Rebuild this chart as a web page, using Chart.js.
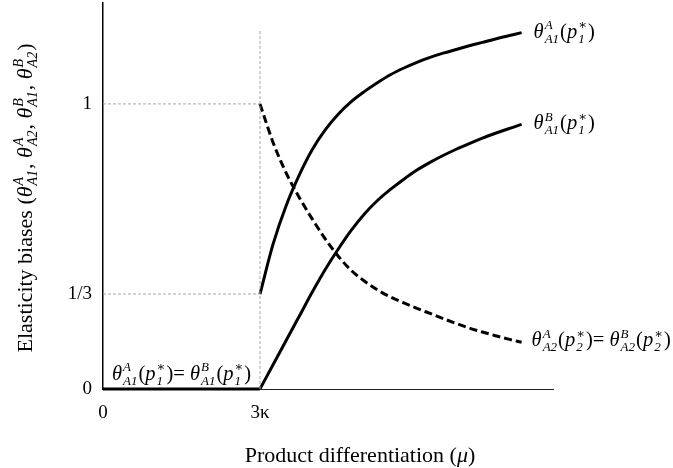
<!DOCTYPE html>
<html>
<head>
<meta charset="utf-8">
<script src="https://cdn.jsdelivr.net/npm/chart.js@4"></script>
<style>
	html, body { margin: 0; padding: 0; background: #fff; }
	#wrap { width: 673px; height: 468px; }
</style>
</head>
<body>
<div id="wrap"><canvas id="elasticityChart" width="673" height="468"></canvas></div>
<script>
// values (x in units where 3κ = 3)
const muGrid = [3, 3.25, 3.5, 3.75, 4, 4.25, 4.5, 4.75, 5, 5.25, 5.5, 5.75, 6, 6.25, 6.5, 6.75, 7, 7.25, 7.5, 7.75, 8];
const thetaA1 = [0.333, 0.508, 0.643, 0.75, 0.84, 0.91, 0.965, 1.009, 1.044, 1.075, 1.103, 1.126, 1.146, 1.163, 1.178, 1.191, 1.204, 1.216, 1.228, 1.239, 1.25];
const thetaB1 = [0, 0.085, 0.17, 0.255, 0.34, 0.42, 0.492, 0.558, 0.615, 0.662, 0.701, 0.736, 0.768, 0.795, 0.819, 0.841, 0.861, 0.88, 0.897, 0.913, 0.928];
const thetaA2 = [1, 0.865, 0.758, 0.672, 0.596, 0.526, 0.465, 0.415, 0.378, 0.347, 0.322, 0.302, 0.283, 0.265, 0.247, 0.23, 0.214, 0.2, 0.187, 0.175, 0.164];
const flatMu = [0, 3];
const flatTheta = [0, 0];

const xTickValues = [0, 3];
const xTickLabels = ['0', '3κ'];
const yTickValues = [0, 1 / 3, 1];
const yTickLabels = ['0', '1/3', '1'];
const guideTop = 1.263;

const SERIF = '"Liberation Serif", "DejaVu Serif", serif';
const fontOf = (size, italic) => (italic ? 'italic ' : '') + size + 'px ' + SERIF;

const toPoints = (xs, ys) => xs.map((x, i) => ({ x: x, y: ys[i] }));

// tiny rich text helper for θ with sup/sub scripts
function richWidth(ctx, parts, size) {
	let w = 0;
	const ss = Math.round(size * 0.65);
	parts.forEach((p) => {
		if (p.t !== undefined) {
			ctx.font = fontOf(size, p.it);
			w += ctx.measureText(p.t).width;
			return;
		}
		ctx.font = fontOf(size, true);
		w += ctx.measureText(p.b).width + 1;
		ctx.font = fontOf(ss, true);
		w += Math.max(p.sup ? ctx.measureText(p.sup).width : 0, p.sub ? ctx.measureText(p.sub).width : 0) + 1;
	});
	return w;
}

function drawRich(ctx, parts, x, y, size) {
	let cx = x;
	const ss = Math.round(size * 0.65);
	ctx.textAlign = 'left';
	ctx.textBaseline = 'alphabetic';
	parts.forEach((p) => {
		if (p.t !== undefined) {
			ctx.font = fontOf(size, p.it);
			ctx.fillText(p.t, cx, y);
			cx += ctx.measureText(p.t).width;
			return;
		}
		ctx.font = fontOf(size, true);
		ctx.fillText(p.b, cx, y);
		cx += ctx.measureText(p.b).width + 1;
		ctx.font = fontOf(ss, true);
		let sw = 0;
		if (p.sup) { ctx.fillText(p.sup, cx, y - size * 0.42); sw = ctx.measureText(p.sup).width; }
		if (p.sub) { ctx.fillText(p.sub, cx, y + size * 0.24); sw = Math.max(sw, ctx.measureText(p.sub).width); }
		cx += sw + 1;
	});
}

const th = (sup, sub) => ({ b: 'θ', sup: sup, sub: sub });
const pp = (sub) => ({ b: 'p', sup: '∗', sub: sub });

const labelA1 = [th('A', 'A1'), { t: '(' }, pp('1'), { t: ')' }];
const labelB1 = [th('B', 'A1'), { t: '(' }, pp('1'), { t: ')' }];
const labelA2 = [th('A', 'A2'), { t: '(' }, pp('2'), { t: ')= ' }, th('B', 'A2'), { t: '(' }, pp('2'), { t: ')' }];
const labelFlat = [th('A', 'A1'), { t: '(' }, pp('1'), { t: ')= ' }, th('B', 'A1'), { t: '(' }, pp('1'), { t: ')' }];
const yTitle = [{ t: 'Elasticity biases (' }, th('A', 'A1'), { t: ', ' }, th('A', 'A2'), { t: ', ' }, th('B', 'A1'), { t: ', ' }, th('B', 'A2'), { t: ')' }];
const xTitle = [{ t: 'Product differentiation (' }, { t: 'μ', it: true }, { t: ')' }];

const textPlugin = {
	id: 'mathText',
	afterDraw(chart) {
		const ctx = chart.ctx;
		const xs = chart.scales.x, ys = chart.scales.y;
		const last = muGrid.length - 1;
		const px = (v) => xs.getPixelForValue(v);
		const py = (v) => ys.getPixelForValue(v);
		const LS = 20.5;
		ctx.save();
		ctx.fillStyle = '#000';

		drawRich(ctx, labelA1, px(muGrid[last]) + 12, py(thetaA1[last]) + 5, LS);
		drawRich(ctx, labelB1, px(muGrid[last]) + 12, py(thetaB1[last]) + 5, LS);
		drawRich(ctx, labelA2, px(muGrid[last]) + 10, py(thetaA2[last]) + 4, LS);
		drawRich(ctx, labelFlat, px(flatMu[0]) + 9, py(flatTheta[0]) - 9, LS);

		// x axis title
		const xw = richWidth(ctx, xTitle, 22);
		drawRich(ctx, xTitle, chart.chartArea.left + 257 - xw / 2, 462, 22);

		// y axis title, rotated
		const yw = richWidth(ctx, yTitle, 22);
		ctx.translate(25, 198);
		ctx.rotate(-Math.PI / 2);
		drawRich(ctx, yTitle, -yw / 2, 7, 22);
		ctx.restore();
	}
};

const guideStyle = {
	borderColor: '#a8a8a8',
	borderWidth: 1,
	borderDash: [3, 2],
	pointRadius: 0,
	fill: false
};

const curveStyle = {
	borderColor: '#000',
	borderWidth: 3,
	pointRadius: 0,
	cubicInterpolationMode: 'monotone',
	borderCapStyle: 'butt'
};

new Chart(document.getElementById('elasticityChart'), {
	type: 'line',
	data: {
		datasets: [
			Object.assign({ data: [{ x: xTickValues[0], y: yTickValues[2] }, { x: xTickValues[1], y: yTickValues[2] }] }, guideStyle),
			Object.assign({ data: [{ x: xTickValues[0], y: yTickValues[1] }, { x: xTickValues[1], y: yTickValues[1] }] }, guideStyle),
			Object.assign({ data: [{ x: xTickValues[1], y: yTickValues[0] }, { x: xTickValues[1], y: guideTop }] }, guideStyle),
			{
				label: 'flat',
				data: toPoints(flatMu, flatTheta),
				borderColor: '#000',
				borderWidth: 3,
				pointRadius: 0,
				clip: false
			},
			Object.assign({ label: 'thetaA1', data: toPoints(muGrid, thetaA1) }, curveStyle),
			Object.assign({ label: 'thetaB1', data: toPoints(muGrid, thetaB1) }, curveStyle),
			Object.assign({ label: 'thetaA2', data: toPoints(muGrid, thetaA2), borderDash: [8, 4] }, curveStyle)
		]
	},
	options: {
		responsive: false,
		animation: false,
		events: [],
		layout: { padding: { top: 3, right: 120, left: 0, bottom: 0 } },
		plugins: {
			legend: { display: false },
			tooltip: { enabled: false }
		},
		scales: {
			x: {
				type: 'linear',
				min: 0,
				max: 8.6,
				afterBuildTicks: (s) => { s.ticks = xTickValues.map((v) => ({ value: v })); },
				afterFit: (s) => { s.height = 79; s.paddingLeft = 0; s.paddingRight = 0; },
				grid: { display: false, drawTicks: false },
				border: { display: true, color: '#222', width: 1 },
				ticks: {
					autoSkip: false,
					maxRotation: 0,
					padding: 13,
					color: '#000',
					font: { family: SERIF, size: 19 },
					callback: (v, i) => xTickLabels[i]
				}
			},
			y: {
				type: 'linear',
				min: 0,
				max: 1.354,
				afterBuildTicks: (s) => { s.ticks = yTickValues.map((v) => ({ value: v })); },
				afterFit: (s) => { s.width = 103; s.paddingTop = 0; s.paddingBottom = 0; },
				grid: { display: false, drawTicks: false },
				border: { display: true, color: '#000', width: 1.5 },
				ticks: {
					autoSkip: false,
					padding: 11,
					color: '#000',
					font: { family: SERIF, size: 19 },
					callback: (v, i) => yTickLabels[i]
				}
			}
		}
	},
	plugins: [textPlugin]
});
</script>
</body>
</html>
